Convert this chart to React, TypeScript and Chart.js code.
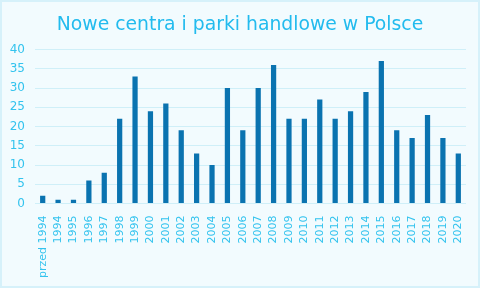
import React, { useEffect, useRef } from "react";
import { Chart, registerables } from "chart.js";

Chart.register(...registerables);

const categories = ["przed 1994", "1994", "1995", "1996", "1997", "1998", "1999", "2000", "2001", "2002", "2003", "2004", "2005", "2006", "2007", "2008", "2009", "2010", "2011", "2012", "2013", "2014", "2015", "2016", "2017", "2018", "2019", "2020"];
const values = [2, 1, 1, 6, 8, 22, 33, 24, 26, 19, 13, 10, 30, 19, 30, 36, 22, 22, 27, 22, 24, 29, 37, 19, 17, 23, 17, 13];
const title = "Nowe centra i parki handlowe w Polsce";

export default function App() {
  const ref = useRef<HTMLCanvasElement>(null);
  useEffect(() => {
    document.body.style.margin = "0";
    const chart = new Chart(ref.current!, {
      type: "bar",
      data: {
        labels: categories,
        datasets: [{ data: values, backgroundColor: "#0A73B0", barPercentage: 0.34, categoryPercentage: 1 }],
      },
      options: {
        animation: false,
        responsive: false,
        layout: { padding: { left: 7, right: 7, top: 6, bottom: 4 } },
        plugins: {
          legend: { display: false },
          tooltip: { enabled: false },
          title: {
            display: true,
            text: title,
            color: "#22BBEE",
            font: { family: "DejaVu Sans", size: 18.8, weight: "normal" },
            padding: { top: 6, bottom: 13 },
          },
        },
        scales: {
          x: {
            grid: { display: false },
            border: { display: false },
            ticks: {
              color: "#33C3EE",
              font: { family: "DejaVu Sans", size: 11 },
              minRotation: 90,
              maxRotation: 90,
              autoSkip: false,
              padding: 4,
            },
          },
          y: {
            min: 0,
            max: 40,
            grid: { color: "#CFEFF8", drawTicks: false },
            border: { display: false },
            afterFit: (s: any) => { s.width = 26; },
            ticks: {
              stepSize: 5,
              color: "#33C3EE",
              font: { family: "DejaVu Sans", size: 12 },
              padding: 10,
            },
          },
          y2: {
            type: "linear",
            position: "right",
            display: true,
            grid: { display: false },
            border: { display: false },
            ticks: { display: false },
            afterFit: (s: any) => { s.width = 5; },
          },
        },
      },
    });
    return () => chart.destroy();
  }, []);
  return (
    <div style={{ width: 480, height: 288, boxSizing: "border-box", border: "2px solid #D6F1FA", background: "#F2FBFE" }}>
      <canvas ref={ref} width={476} height={284} style={{ display: "block" }} />
    </div>
  );
}
